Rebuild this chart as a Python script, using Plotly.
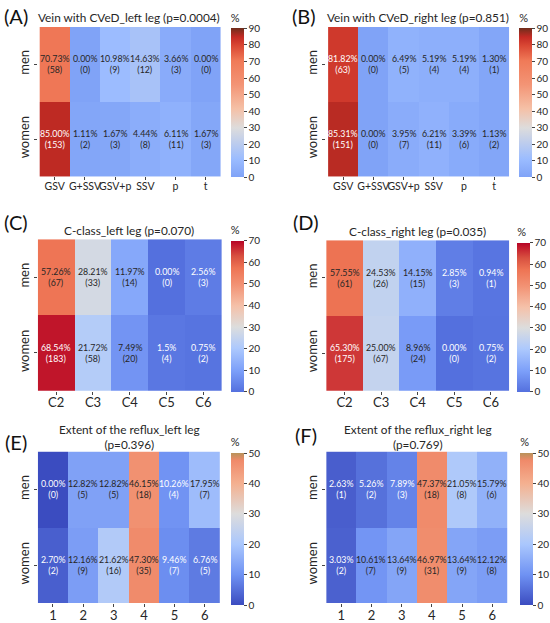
import plotly.graph_objects as go

W, H = 550, 623
FONT = "Lato"
DARK = "#262626"

# ---------------- data ----------------
rows = ["men", "women"]

vein_cats = ["GSV", "G+SSV", "GSV+p", "SSV", "p", "t"]
A_men_pct = ["70.73", "0.00", "10.98", "14.63", "3.66", "0.00"]
A_men_n = [58, 0, 9, 12, 3, 0]
A_women_pct = ["85.00", "1.11", "1.67", "4.44", "6.11", "1.67"]
A_women_n = [153, 2, 3, 8, 11, 3]

B_men_pct = ["81.82", "0.00", "6.49", "5.19", "5.19", "1.30"]
B_men_n = [63, 0, 5, 4, 4, 1]
B_women_pct = ["85.31", "0.00", "3.95", "6.21", "3.39", "1.13"]
B_women_n = [151, 0, 7, 11, 6, 2]

c_cats = ["C2", "C3", "C4", "C5", "C6"]
C_men_pct = ["57.26", "28.21", "11.97", "0.00", "2.56"]
C_men_n = [67, 33, 14, 0, 3]
C_women_pct = ["68.54", "21.72", "7.49", "1.5", "0.75"]
C_women_n = [183, 58, 20, 4, 2]

D_men_pct = ["57.55", "24.53", "14.15", "2.85", "0.94"]
D_men_n = [61, 26, 15, 3, 1]
D_women_pct = ["65.30", "25.00", "8.96", "0.00", "0.75"]
D_women_n = [175, 67, 24, 0, 2]

ext_cats = ["1", "2", "3", "4", "5", "6"]
E_men_pct = ["0.00", "12.82", "12.82", "46.15", "10.26", "17.95"]
E_men_n = [0, 5, 5, 18, 4, 7]
E_women_pct = ["2.70", "12.16", "21.62", "47.30", "9.46", "6.76"]
E_women_n = [2, 9, 16, 35, 7, 5]

F_men_pct = ["2.63", "5.26", "7.89", "47.37", "21.05", "15.79"]
F_men_n = [1, 2, 3, 18, 8, 6]
F_women_pct = ["3.03", "10.61", "13.64", "46.97", "13.64", "12.12"]
F_women_n = [2, 7, 9, 31, 9, 8]

titles = [
    "Vein with CVeD_left leg (p=0.0004)",
    "Vein with CVeD_right leg (p=0.851)",
    "C-class_left leg (p=0.070)",
    "C-class_right leg (p=0.035)",
    "Extent of the reflux_left leg<br>(p=0.396)",
    "Extent of the reflux_right leg<br>(p=0.769)",
]
letters = ["(A)", "(B)", "(C)", "(D)", "(E)", "(F)"]

# ---------------- styles ----------------
scale_ab = [[0.0, "#80a3f7"], [0.12, "#9bbcff"], [0.33, "#dddcdc"], [0.46, "#f5c0a6"],
            [0.62, "#f39475"], [0.78, "#f07a58"], [0.88, "#da4834"], [0.94, "#c42a24"],
            [1.0, "#6e2e1c"]]
scale_cd = [[0.0, "#5470de"], [0.14, "#7c9ff9"], [0.29, "#adc9fd"], [0.43, "#dcdddd"],
            [0.57, "#f5c1a9"], [0.71, "#f29274"], [0.82, "#ee7454"], [0.9, "#d85040"],
            [0.98, "#c0142a"], [1.0, "#b40426"]]
scale_ef = [[0.0, "#3b4cc0"], [0.2, "#6f92f3"], [0.4, "#aac7fd"], [0.6, "#dddcdc"],
            [0.8, "#f4b090"], [0.95, "#f08a6a"], [1.0, "#b8925a"]]

panels = [
    dict(cats=vein_cats, men=(A_men_pct, A_men_n), women=(A_women_pct, A_women_n),
         zmax=90, scale=scale_ab, lo=-1, hi=75, xsize=10.5,
         hm=(38, 222, 27, 177), cb=(232, 27, 178), title_xy=(130, 18), letter_xy=(16, 16)),
    dict(cats=vein_cats, men=(B_men_pct, B_men_n), women=(B_women_pct, B_women_n),
         zmax=90, scale=scale_ab, lo=-1, hi=75, xsize=10.5,
         hm=(328, 512, 27, 177), cb=(522, 27, 178), title_xy=(420, 18), letter_xy=(306, 16)),
    dict(cats=c_cats, men=(C_men_pct, C_men_n), women=(C_women_pct, C_women_n),
         zmax=70, scale=scale_cd, lo=6, hi=62, xsize=13,
         hm=(38, 223, 240, 392), cb=(232, 240, 393), title_xy=(130, 231), letter_xy=(16, 223)),
    dict(cats=c_cats, men=(D_men_pct, D_men_n), women=(D_women_pct, D_women_n),
         zmax=70, scale=scale_cd, lo=6, hi=62, xsize=13,
         hm=(328, 512, 241, 392), cb=(520, 242, 393), title_xy=(420, 232), letter_xy=(308, 223)),
    dict(cats=ext_cats, men=(E_men_pct, E_men_n), women=(E_women_pct, E_women_n),
         zmax=50, scale=scale_ef, lo=10.4, hi=999, xsize=13,
         hm=(38, 223, 453, 605), cb=(232, 453, 607), title_xy=(130, 438), letter_xy=(16, 443)),
    dict(cats=ext_cats, men=(F_men_pct, F_men_n), women=(F_women_pct, F_women_n),
         zmax=50, scale=scale_ef, lo=10.4, hi=999, xsize=13,
         hm=(328, 512, 453, 605), cb=(523, 453, 607), title_xy=(420, 438), letter_xy=(308, 436)),
]

fig = go.Figure()
layout = dict(width=W, height=H, margin=dict(l=0, r=0, t=0, b=0),
              paper_bgcolor="white", plot_bgcolor="white",
              font=dict(family=FONT, color=DARK), showlegend=False)
annotations = []

for i, p in enumerate(panels, start=1):
    sfx = "" if i == 1 else str(i)
    x0, x1, y0, y1 = p["hm"]
    z = [[float(v) for v in p["men"][0]], [float(v) for v in p["women"][0]]]
    cbx, cby0, cby1 = p["cb"]
    top = cby0 - 17
    fig.add_trace(go.Heatmap(
        x=p["cats"], y=rows, z=z, zmin=0, zmax=p["zmax"], colorscale=p["scale"],
        xaxis="x" + sfx, yaxis="y" + sfx, hoverinfo="skip",
        colorbar=dict(x=cbx / W, xanchor="left", xpad=0, ypad=0,
                      y=1 - cby1 / H, yanchor="bottom",
                      len=(cby1 - top) / H, lenmode="fraction", thickness=13,
                      thicknessmode="pixels", outlinewidth=0, ticks="outside", ticklen=3,
                      tickcolor="#444", dtick=10, tick0=0,
                      tickfont=dict(family=FONT, size=10, color=DARK),
                      title=dict(text="%", side="top", font=dict(family=FONT, size=11, color=DARK))),
    ))
    layout["xaxis" + sfx] = dict(domain=[x0 / W, x1 / W], anchor="y" + sfx, type="category",
                                 ticks="outside", ticklen=3, tickcolor="#444", showgrid=False,
                                 zeroline=False, showline=False, tickangle=0,
                                 ticklabelstandoff=-3,
                                 tickfont=dict(family=FONT, size=p["xsize"], color=DARK))
    layout["yaxis" + sfx] = dict(domain=[1 - y1 / H, 1 - y0 / H], anchor="x" + sfx, type="category",
                                 autorange="reversed", ticks="outside", ticklen=3, tickcolor="#444",
                                 tickangle=-90, showgrid=False, zeroline=False, showline=False,
                                 tickfont=dict(family=FONT, size=13, color=DARK))
    for r, key in enumerate(["men", "women"]):
        pcts, ns = p[key]
        for c in range(len(p["cats"])):
            v = float(pcts[c])
            col = "white" if (v < p["lo"] or v > p["hi"]) else DARK
            annotations.append(dict(x=c, y=r, xref="x" + sfx, yref="y" + sfx,
                                    text=f"{pcts[c]}%<br>({ns[c]})", showarrow=False,
                                    font=dict(family=FONT, size=8.8, color=col)))
    tx, ty = p["title_xy"]
    annotations.append(dict(x=tx / W, y=1 - ty / H, xref="paper", yref="paper",
                            text=titles[i - 1], showarrow=False, xanchor="center", yanchor="middle",
                            font=dict(family=FONT, size=11.8, color=DARK)))
    lx, ly = p["letter_xy"]
    annotations.append(dict(x=lx / W, y=1 - ly / H, xref="paper", yref="paper",
                            text=letters[i - 1], showarrow=False, xanchor="center", yanchor="middle",
                            font=dict(family=FONT, size=20, color="#111")))

layout["annotations"] = annotations
fig.update_layout(**layout)
fig.write_html("out.html", config={"displayModeBar": False},
               post_script="document.body.style.margin='0';document.body.style.padding='0';"
                           "document.documentElement.style.overflow='hidden';")
